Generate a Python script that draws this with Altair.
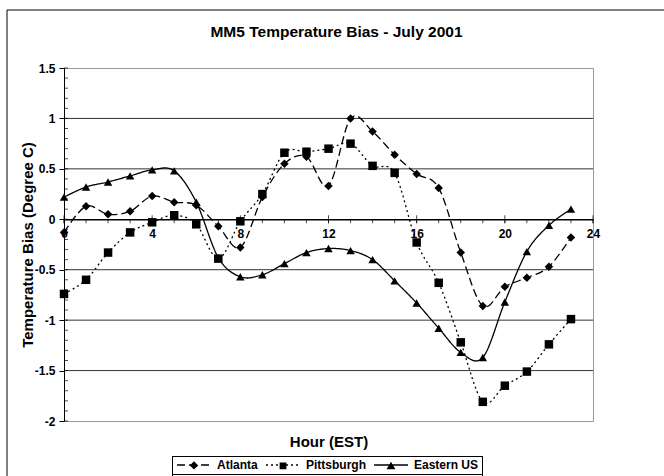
import altair as alt
import pandas as pd

# ---- data ----
hours = list(range(24))
series_names = ["Atlanta", "Pittsburgh", "Eastern US"]
atlanta = [-0.13, 0.13, 0.05, 0.08, 0.23, 0.17, 0.14, -0.07, -0.28, 0.22, 0.55, 0.62,
           0.33, 1.00, 0.87, 0.64, 0.45, 0.31, -0.33, -0.86, -0.67, -0.58, -0.47, -0.18]
pittsburgh = [-0.74, -0.60, -0.33, -0.13, -0.03, 0.04, -0.05, -0.39, -0.02, 0.25, 0.66, 0.67,
              0.70, 0.75, 0.53, 0.46, -0.23, -0.63, -1.22, -1.81, -1.65, -1.51, -1.24, -0.99]
eastern = [0.22, 0.32, 0.37, 0.43, 0.49, 0.48, 0.17, -0.38, -0.57, -0.55, -0.44, -0.33,
           -0.29, -0.31, -0.40, -0.61, -0.83, -1.08, -1.32, -1.37, -0.82, -0.32, -0.06, 0.10]
x_major = [0, 4, 8, 12, 16, 20, 24]
x_minor = list(range(0, 25))
y_major = [-2, -1.5, -1, -0.5, 0, 0.5, 1, 1.5]
y_minor = [round(-2 + 0.1 * i, 1) for i in range(36)]
y_grid = [-1.5, -1, -0.5, 0.5, 1]

rows = []
for name, vals in zip(series_names, [atlanta, pittsburgh, eastern]):
    for h, v in zip(hours, vals):
        rows.append({"hour": h, "bias": v, "series": name})
df = pd.DataFrame(rows)

FONT = "Liberation Sans"
dash_range = [[8, 4], [2, 3], [1, 0]]
marker_shapes = ["diamond", "square", "triangle-up"]
legend_line_path = "M-4,0H4"
legend_marker_paths = [
    "M-4,0H4M-1,0L0,-1L1,0L0,1Z",
    "M-4,0H4M-0.8,-0.8H0.8V0.8H-0.8Z",
    "M-4,0H4M0,-0.95L1.05,0.85H-1.05Z",
]

ZERO_OFFSET = -353 * 2.0 / 3.5
x_scale = alt.Scale(domain=[0, 24], nice=False, zero=False)
y_scale = alt.Scale(domain=[-2, 1.5], nice=False, zero=False)

x_axis = alt.Axis(
    values=x_major, offset=ZERO_OFFSET,
    title="Hour (EST)", titleY=222, titleBaseline="middle",
    titleFont=FONT, titleFontSize=15, titleFontWeight="bold", titleColor="black",
    labelFlush=False, labelOverlap=False,
    labelFont=FONT, labelFontSize=12, labelFontWeight="bold", labelColor="black",
    labelPadding=9, ticks=False,
    domainColor="black", domainWidth=1.5, grid=False,
)

y_axis = alt.Axis(
    values=y_major,
    title="Temperature Bias (Degree C)",
    titleX=-37, titleY=176.5, titleBaseline="middle",
    titleFont=FONT, titleFontSize=15, titleFontWeight="bold", titleColor="black",
    labelExpr="(datum.value < 0 ? '-' : '') + format(abs(datum.value), '~g')",
    labelFlush=False, labelOverlap=False,
    labelFont=FONT, labelFontSize=12, labelFontWeight="bold", labelColor="black",
    labelPadding=4, tickSize=5,
    tickColor="black", domainColor="black", domainWidth=1, grid=False,
)

x_enc = alt.X("hour:Q", scale=x_scale, axis=x_axis)
y_enc = alt.Y("bias:Q", scale=y_scale, axis=y_axis)

base = alt.Chart(df)

grid = alt.Chart(pd.DataFrame({"g": y_grid})).mark_rule(color="#333333", strokeWidth=1).encode(
    y=alt.Y("g:Q", scale=y_scale, axis=y_axis)
)

y_minor_ticks = alt.Chart(pd.DataFrame({"t": y_minor})).mark_tick(
    orient="horizontal", size=4, thickness=1, color="black", xOffset=2
).encode(y=alt.Y("t:Q", scale=y_scale, axis=y_axis), x=alt.XDatum(0, scale=x_scale, axis=x_axis))

x_minor_ticks = alt.Chart(pd.DataFrame({"t": x_minor})).mark_tick(
    orient="vertical", size=4, thickness=1, color="black", yOffset=2
).encode(x=alt.X("t:Q", scale=x_scale, axis=x_axis), y=alt.YDatum(0, scale=y_scale, axis=y_axis))

x_major_ticks = alt.Chart(pd.DataFrame({"t": x_major})).mark_tick(
    orient="vertical", size=8, thickness=1, color="black"
).encode(x=alt.X("t:Q", scale=x_scale, axis=x_axis), y=alt.YDatum(0, scale=y_scale, axis=y_axis))

common_legend = dict(
    orient="none", legendX=108, legendY=388, direction="horizontal",
    title=None, padding=3, strokeColor="black",
    symbolSize=72, symbolOffset=13, labelOffset=17, columnPadding=5,
    labelFont=FONT, labelFontSize=12, labelFontWeight="bold", labelColor="black",
)

lines = base.mark_line(interpolate="cardinal", color="black", strokeWidth=1.3).encode(
    x=x_enc, y=y_enc,
    strokeDash=alt.StrokeDash(
        "series:N", scale=alt.Scale(domain=series_names, range=dash_range),
        legend=alt.Legend(symbolType=legend_line_path, symbolStrokeColor="black",
                          symbolStrokeWidth=1.3, symbolFillColor="transparent",
                          symbolOpacity=1, **common_legend)),
    detail="series:N",
)

points = base.mark_point(filled=True, color="black", opacity=1, size=72).encode(
    x=x_enc, y=y_enc,
    shape=alt.Shape("series:N", scale=alt.Scale(domain=series_names, range=marker_shapes), legend=None),
)

legend_layer = base.mark_point(filled=True, color="black", opacity=0).encode(
    x=x_enc, y=y_enc,
    shape=alt.Shape("series:N", scale=alt.Scale(domain=series_names, range=legend_marker_paths),
                    legend=alt.Legend(symbolFillColor="black", symbolOpacity=1, labelOpacity=0,
                                      **common_legend)),
)

border = alt.Chart(alt.Data(values=[{}])).mark_rect(fill="transparent", stroke="black", strokeWidth=1).encode(
    x=alt.value(-57), y=alt.value(-58), x2=alt.value(720), y2=alt.value(600)
)

chart = alt.layer(
    border, grid, y_minor_ticks, x_minor_ticks, x_major_ticks, lines, points, legend_layer
).resolve_scale(
    shape="independent"
).properties(
    width=529, height=353,
    padding={"left": 64, "top": 68, "right": 71, "bottom": 55},
    autosize=alt.AutoSizeParams(type="none"),
    title=alt.TitleParams("MM5 Temperature Bias - July 2001", font=FONT, fontSize=15.5,
                          fontWeight="bold", anchor="middle", dx=8, dy=43, offset=0,
                          baseline="alphabetic", color="black"),
    background="white",
).configure_view(stroke="#999999", strokeWidth=1).configure_legend(strokeWidth=1)

chart.save("out.html", embed_options={"renderer": "svg", "actions": False})
